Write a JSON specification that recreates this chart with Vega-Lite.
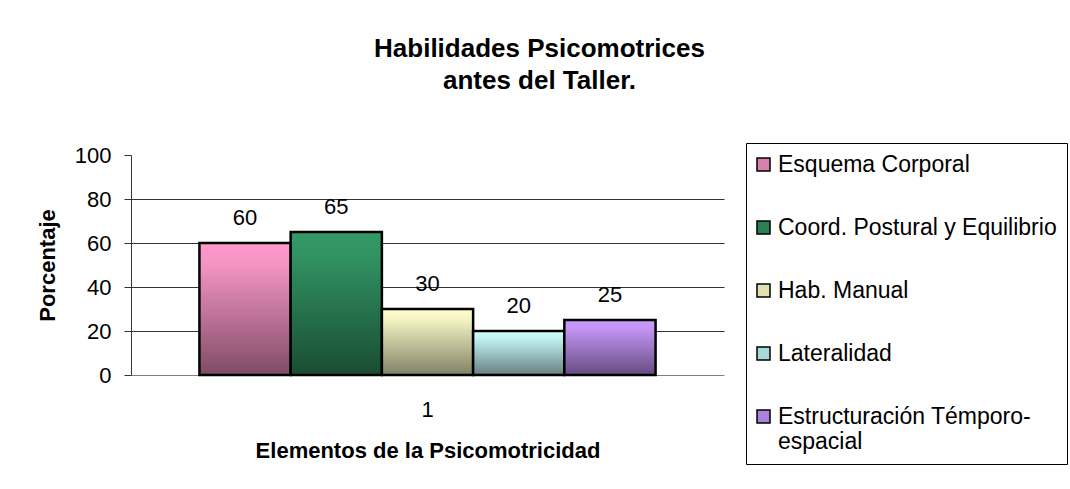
{
  "$schema": "https://vega.github.io/schema/vega-lite/v6.json",
  "width": 593,
  "height": 220,
  "autosize": {"type": "none"},
  "padding": {"left": 131, "top": 155, "right": 346, "bottom": 114},
  "background": "white",
  "title": {
    "text": ["Habilidades Psicomotrices", "antes del Taller."],
    "fontSize": 26,
    "fontWeight": "bold",
    "font": "Liberation Sans",
    "color": "black",
    "anchor": "middle",
    "frame": "group",
    "dx": 112,
    "offset": 49,
    "lineHeight": 32
  },
  "data": {
    "values": [
      {"grupo": "1", "cat": "Esquema Corporal", "valor": 60},
      {"grupo": "1", "cat": "Coord. Postural y Equilibrio", "valor": 65},
      {"grupo": "1", "cat": "Hab. Manual", "valor": 30},
      {"grupo": "1", "cat": "Lateralidad", "valor": 20},
      {"grupo": "1", "cat": "Estructuración Témporo-espacial", "valor": 25}
    ]
  },
  "encoding": {
    "x": {
      "field": "grupo",
      "type": "nominal",
      "title": "Elementos de la Psicomotricidad",
      "scale": {"paddingOuter": 0.15, "paddingInner": 0},
      "axis": {
        "labelAngle": 0,
        "labelFontSize": 22,
        "labelPadding": 24,
        "ticks": false,
        "domainColor": "#808080",
        "titleFontSize": 22,
        "titleFontWeight": "bold",
        "titlePadding": 20
      }
    },
    "xOffset": {
      "field": "cat",
      "type": "nominal",
      "sort": ["Esquema Corporal", "Coord. Postural y Equilibrio", "Hab. Manual", "Lateralidad", "Estructuración Témporo-espacial"],
      "scale": {"paddingInner": 0, "paddingOuter": 0}
    },
    "y": {
      "field": "valor",
      "type": "quantitative",
      "title": "Porcentaje",
      "scale": {"domain": [0, 100], "nice": false},
      "axis": {
        "values": [0, 20, 40, 60, 80, 100],
        "labelFontSize": 22,
        "labelPadding": 13,
        "tickSize": 7,
        "tickColor": "#333333",
        "domainColor": "#333333",
        "gridColor": "#333333",
        "gridOpacity": {"condition": {"test": "datum.value == 100 || datum.value == 0", "value": 0}, "value": 1},
        "titleFontSize": 22,
        "titleFontWeight": "bold",
        "titlePadding": 15
      }
    }
  },
  "layer": [
    {
      "mark": {"type": "bar", "stroke": "black", "strokeWidth": 2.5},
      "encoding": {
        "color": {
          "field": "cat",
          "type": "nominal",
          "condition": [
            {"test": "datum.cat == 'Esquema Corporal'", "value": {"gradient": "linear", "x1": 0, "y1": 0, "x2": 0, "y2": 1, "stops": [{"offset": 0, "color": "#FF99CC"}, {"offset": 0.15, "color": "#F595C4"}, {"offset": 1, "color": "#7F4C66"}]}},
            {"test": "datum.cat == 'Coord. Postural y Equilibrio'", "value": {"gradient": "linear", "x1": 0, "y1": 0, "x2": 0, "y2": 1, "stops": [{"offset": 0, "color": "#339966"}, {"offset": 0.15, "color": "#319463"}, {"offset": 1, "color": "#1A4C33"}]}},
            {"test": "datum.cat == 'Hab. Manual'", "value": {"gradient": "linear", "x1": 0, "y1": 0, "x2": 0, "y2": 1, "stops": [{"offset": 0, "color": "#FFFFCC"}, {"offset": 0.15, "color": "#F5F5C4"}, {"offset": 1, "color": "#808066"}]}},
            {"test": "datum.cat == 'Lateralidad'", "value": {"gradient": "linear", "x1": 0, "y1": 0, "x2": 0, "y2": 1, "stops": [{"offset": 0, "color": "#CCFFFF"}, {"offset": 0.15, "color": "#C4F5F5"}, {"offset": 1, "color": "#668080"}]}},
            {"test": "datum.cat == 'Estructuración Témporo-espacial'", "value": {"gradient": "linear", "x1": 0, "y1": 0, "x2": 0, "y2": 1, "stops": [{"offset": 0, "color": "#CC99FF"}, {"offset": 0.15, "color": "#C495F5"}, {"offset": 1, "color": "#664C80"}]}}
          ],
          "scale": {
            "domain": ["Esquema Corporal", "Coord. Postural y Equilibrio", "Hab. Manual", "Lateralidad", "Estructuración Témporo-espacial"],
            "range": ["#D97FAD", "#2B8055", "#E0E0B0", "#A8DADA", "#AD80DD"]
          },
          "legend": {
            "title": null,
            "orient": "none",
            "legendX": 615,
            "legendY": -12,
            "strokeColor": "black",
            "fillColor": "white",
            "padding": 10,
            "symbolType": "square",
            "symbolSize": 169,
            "symbolOffset": -4,
            "symbolStrokeColor": "black",
            "symbolStrokeWidth": 1.5,
            "symbolOpacity": 1,
            "labelFontSize": 23,
            "labelLimit": 400,
            "labelOffset": 3,
            "rowPadding": 39,
            "labelExpr": "datum.label == 'Estructuración Témporo-espacial' ? ['Estructuración Témporo-', 'espacial'] : datum.label"
          }
        }
      }
    },
    {
      "mark": {"type": "text", "fontSize": 22, "baseline": "middle", "dy": -25, "color": "black"},
      "encoding": {
        "text": {"field": "valor", "type": "quantitative"}
      }
    }
  ],
  "config": {
    "font": "Liberation Sans",
    "view": {"stroke": null},
    "axis": {"labelColor": "black", "titleColor": "black", "labelFont": "Liberation Sans", "titleFont": "Liberation Sans"},
    "legend": {"labelColor": "black", "labelFont": "Liberation Sans"}
  }
}
